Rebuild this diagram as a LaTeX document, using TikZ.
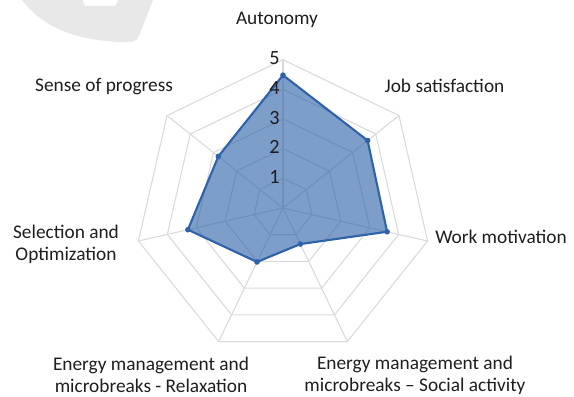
\documentclass[tikz,border=0pt]{standalone}
\usepackage{fontspec}
\setmainfont{Carlito}
\usetikzlibrary{positioning}
\definecolor{gridgray}{RGB}{217,217,217}
\definecolor{areablue}{RGB}{46,98,170}
\definecolor{markgray}{RGB}{232,232,232}
\definecolor{labeltext}{RGB}{30,30,30}

\begin{document}
\begin{tikzpicture}[x=0.02cm, y=0.02cm,
    gridline/.style={draw=gridgray, line width=0.6pt},
    area/.style={draw=areablue, line width=1.2pt, line join=round, fill=areablue, fill opacity=0.62},
    dot/.style={circle, fill=areablue, inner sep=0pt, minimum size=3.2pt},
    axislabel/.style={font=\fontsize{11}{12.5}\selectfont, text=labeltext, align=center, inner sep=0pt},
    ticklabel/.style={font=\fontsize{11.5}{12}\selectfont, text=labeltext, anchor=east, inner sep=0pt}
]
\useasboundingbox (0,0) rectangle (574,396);

% faint mark in the corner
\fill[markgray] (22,396) .. controls (40,372) and (70,356) .. (120,354)
    .. controls (133,353) and (137,355) .. (139,360) -- (153,396) -- (118,396)
    .. controls (116,390) .. (112,390) -- (88,390) .. controls (84,390) .. (83,396) -- cycle;

\begin{scope}[shift={(283,188)}, scale=29.66]
    % web
    \foreach \r in {1,...,5}
        \draw[gridline] (90:\r) -- (38.57:\r) -- (-12.86:\r) -- (-64.29:\r)
            -- (-115.71:\r) -- (-167.14:\r) -- (141.43:\r) -- cycle;
    \foreach \a in {90,38.57,-12.86,-64.29,-115.71,-167.14,141.43}
        \draw[gridline] (0,0) -- (\a:5);

    % values
    \coordinate (aut) at (90:4.48);
    \coordinate (job) at (38.57:3.65);
    \coordinate (wrk) at (-12.86:3.6);
    \coordinate (soc) at (-64.29:1.35);
    \coordinate (rel) at (-115.71:2.02);
    \coordinate (sel) at (-167.14:3.29);
    \coordinate (prg) at (141.43:2.79);
    \draw[area] (aut) -- (job) -- (wrk) -- (soc) -- (rel) -- (sel) -- (prg) -- cycle;
    \foreach \p in {aut,job,wrk,soc,rel,sel,prg}
        \node[dot] (d-\p) at (\p) {};

    % scale
    \foreach \r in {1,...,5}
        \node[ticklabel] (t\r) at (-0.1, \r+0.05) {\r};
\end{scope}

\node[axislabel] (l-aut) at (277,376) {Autonomy};
\node[axislabel] (l-job) at (444.5,310) {Job satisfaction};
\node[axislabel] (l-wrk) at (501,159) {Work motivation};
\node[axislabel] (l-soc) at (415,21) {Energy management and\\microbreaks -- Social activity};
\node[axislabel] (l-rel) at (151,21) {Energy management and\\microbreaks - Relaxation};
\node[axislabel] (l-sel) at (66,151.5) {Selection and\\Optimization};
\node[axislabel] (l-prg) at (104,309) {Sense of progress};
\end{tikzpicture}
\end{document}
